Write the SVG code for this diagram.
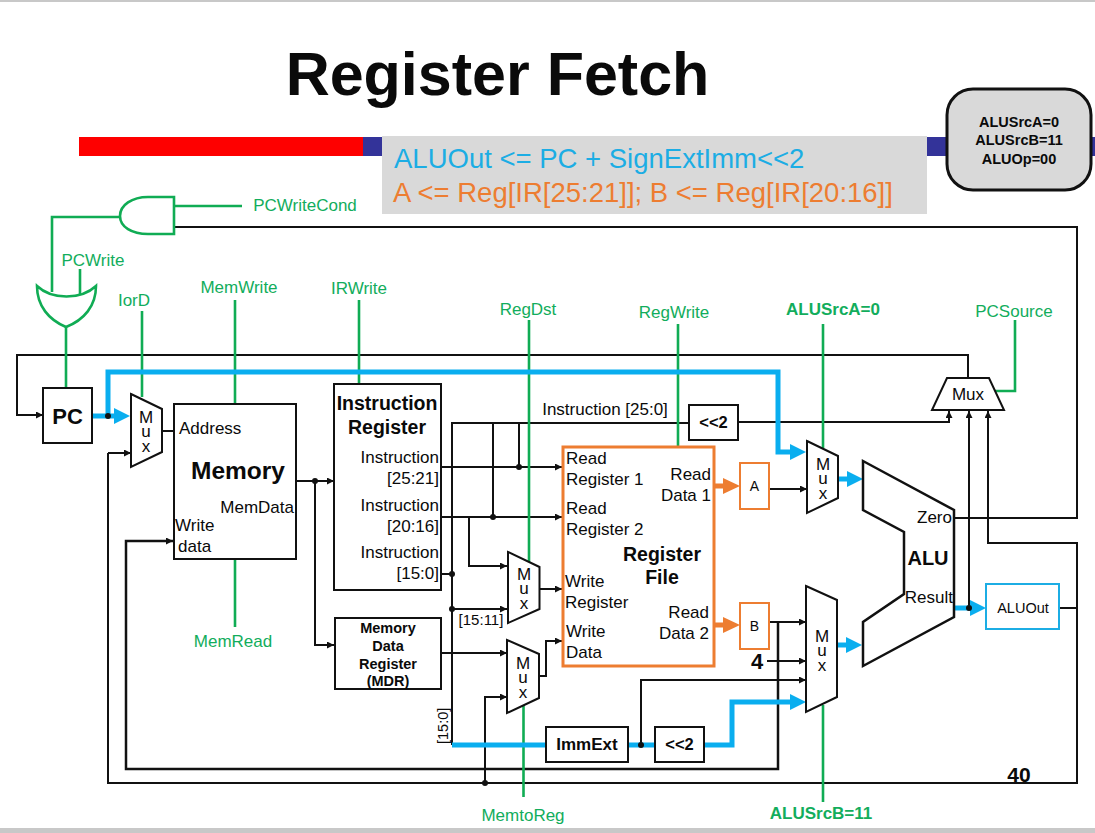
<svg xmlns="http://www.w3.org/2000/svg" width="1095" height="833" viewBox="0 0 1095 833">
<style>
text{font-family:"Liberation Sans",Arial,sans-serif;fill:#0a0a0a}
.c{text-anchor:middle}.e{text-anchor:end}.b{font-weight:bold}
.f{font-size:17px}.g{fill:#12ad5c;font-size:17px;text-anchor:middle}
.box{fill:#fff;stroke:#111;stroke-width:2}
.k{fill:none;stroke:#111;stroke-width:2}
.gr{fill:none;stroke:#10ac54;stroke-width:2.6}
.bl{fill:none;stroke:#0aaeef;stroke-width:5}
.or{fill:none;stroke:#ed7d31;stroke-width:5}
</style>
<defs>
<marker id="a" viewBox="0 0 7 7" refX="7" refY="3.500" markerWidth="7" markerHeight="7" markerUnits="userSpaceOnUse" orient="auto"><path d="M0 0L7 3.500L0 7Z" fill="#111"/></marker>
</defs>
<rect width="1095" height="833" fill="#fff"/>
<rect width="1095" height="2" fill="#c8c8c8"/>
<rect y="828" width="1095" height="5" fill="#c8c8c8"/>
<g id="title">
<rect x="79" y="137" width="284" height="19" fill="#fe0000"/>
<rect x="363" y="137" width="20" height="19" fill="#333399"/>
<rect x="927" y="137" width="21" height="19" fill="#333399"/>
<rect x="1090" y="137" width="5" height="19" fill="#333399"/>
<text x="497.500" y="95" class="c b" font-size="61">Register Fetch</text>
<rect x="382" y="136" width="545" height="78" fill="#d9d9d9"/>
<text x="394" y="168" font-size="27.500" style="fill:#1cade4">ALUOut &lt;= PC + SignExtImm&lt;&lt;2</text>
<text x="393" y="202" font-size="27.500" style="fill:#ed7d31">A &lt;= Reg[IR[25:21]]; B &lt;= Reg[IR[20:16]]</text>
</g>
<g id="state">
<rect x="947" y="89" width="144" height="101" rx="26" fill="#d9d9d9" stroke="#111" stroke-width="3"/>
<text x="1019" y="127" class="c b" font-size="14.500">ALUSrcA=0</text>
<text x="1019" y="145" class="c b" font-size="14.500">ALUSrcB=11</text>
<text x="1019" y="164" class="c b" font-size="14.500">ALUOp=00</text>
</g>
<g id="connectors">
<path class="k" d="M175 227H1077V518H954"/>
<path class="k" d="M968 378V355H17V415H43" marker-end="url(#a)"/>
<path class="k" d="M108 453H131" marker-end="url(#a)"/>
<path class="k" d="M108 453V783H1077V543H988V411" marker-end="url(#a)"/>
<path class="k" d="M1059 608H1077"/>
<path class="k" d="M162 431H174"/>
<path class="k" d="M296 481H334" marker-end="url(#a)"/>
<path class="k" d="M315 481V645H334" marker-end="url(#a)"/>
<path class="k" style="stroke-width:2.500" d="M173 541H126V769H778V622"/>
<path class="k" d="M126 541H173" marker-end="url(#a)"/>
<path class="k" d="M769 622H806" marker-end="url(#a)"/>
<path class="k" d="M452 745V423H689"/>
<path class="k" d="M493 423V517"/>
<path class="k" d="M519 423V467"/>
<path class="k" d="M441 467H562" marker-end="url(#a)"/>
<path class="k" d="M441 517H562" marker-end="url(#a)"/>
<path class="k" d="M469 517V566H507" marker-end="url(#a)"/>
<path class="k" d="M441 574H452"/>
<path class="k" d="M452 609H507" marker-end="url(#a)"/>
<path class="k" d="M539 589H562" marker-end="url(#a)"/>
<path class="k" d="M441 653H507" marker-end="url(#a)"/>
<path class="k" d="M485 783V697H507" marker-end="url(#a)"/>
<path class="k" d="M539 676H546V641H562" marker-end="url(#a)"/>
<path class="k" d="M769 489H807" marker-end="url(#a)"/>
<path class="k" d="M767 661H806" marker-end="url(#a)"/>
<path class="k" d="M641 745V680H806" marker-end="url(#a)"/>
<path class="k" d="M738 422H949V411" marker-end="url(#a)"/>
<path class="k" d="M969 608V411" marker-end="url(#a)"/>
<path class="gr" d="M120 217H52V292"/>
<path class="gr" d="M174 206H242"/>
<path class="gr" d="M80 269V295"/>
<path class="gr" d="M66 327V388"/>
<path class="gr" d="M142 311V397"/>
<path class="gr" d="M235 300V404"/>
<path class="gr" d="M235 559V627"/>
<path class="gr" d="M359 300V384"/>
<path class="gr" d="M529 320V569"/>
<path class="gr" d="M678 324V446"/>
<path class="gr" d="M823 324V448"/>
<path class="gr" d="M823 705V802"/>
<path class="gr" d="M523.500 705V797"/>
<path class="gr" d="M995 391H1015V320"/>
<path class="bl" d="M93 416H116"/>
<path d="M114 408L130 416L114 424Z" fill="#0aaeef"/>
<path class="bl" d="M108 416V372H778V452H792"/>
<path d="M790 444L806 452L790 460Z" fill="#0aaeef"/>
<path class="bl" d="M838 479H849"/>
<path d="M847 471L863 479L847 487Z" fill="#0aaeef"/>
<path class="bl" d="M837 645H848"/>
<path d="M846 637L862 645L846 653Z" fill="#0aaeef"/>
<path class="bl" d="M954 608H972"/>
<path d="M970 600L986 608L970 616Z" fill="#0aaeef"/>
<path class="bl" d="M452 745H546M628 745H655"/>
<path class="bl" d="M704 745H732V702H792"/>
<path d="M790 694L806 702L790 710Z" fill="#0aaeef"/>
<path class="or" d="M714 486H726M714 625H726"/>
<path d="M723 478L740 486L723 494ZM723 617L740 625L723 633Z" fill="#ed7d31"/>
<g fill="#111">
<circle cx="108" cy="416" r="3"/><circle cx="315" cy="481" r="3"/>
<circle cx="519" cy="467" r="3"/><circle cx="493" cy="517" r="3"/>
<circle cx="452" cy="574" r="3"/><circle cx="452" cy="609" r="3"/>
<circle cx="485" cy="783" r="3"/><circle cx="641" cy="745" r="3"/>
<circle cx="969" cy="608" r="3"/>
</g>
</g>
<g id="and-gate"><path d="M174 197V234H148C132 234 120 227 120 216C120 205 132 197 148 197Z" fill="#fff" stroke="#10ac54" stroke-width="2.600"/></g>
<g id="or-gate"><path d="M37 286C52 300 81 300 96 286C96 306 84 320 66 327C49 320 37 306 37 286Z" fill="#fff" stroke="#10ac54" stroke-width="2.600"/></g>
<g id="pc"><rect class="box" x="43" y="388" width="49" height="55"/><text x="67.500" y="424" class="c b" font-size="22">PC</text></g>
<g id="mux-iord"><path class="box" d="M131 394L162 409V452L131 467Z"/><text class="c f"><tspan x="146" y="423">M</tspan><tspan x="146" y="437">u</tspan><tspan x="146" y="452">x</tspan></text></g>
<g id="memory"><rect class="box" x="174" y="404" width="122" height="155"/>
<text x="179" y="434" class="f">Address</text><text x="238" y="479" class="c b" font-size="24.500">Memory</text>
<text x="294" y="513" class="e f">MemData</text><text x="175" y="531" class="f">Write</text><text x="178" y="552" class="f">data</text></g>
<g id="instruction-register"><rect class="box" x="334" y="384" width="107" height="206"/>
<text x="387" y="410" class="c b" font-size="19.500">Instruction</text><text x="387" y="434" class="c b" font-size="19.500">Register</text>
<text x="439" y="463" class="e f">Instruction</text><text x="439" y="484" class="e f">[25:21]</text>
<text x="439" y="511" class="e f">Instruction</text><text x="439" y="532" class="e f">[20:16]</text>
<text x="439" y="558" class="e f">Instruction</text><text x="439" y="579" class="e f">[15:0]</text></g>
<g id="mdr"><rect class="box" x="335" y="618" width="106" height="71"/>
<text x="388" y="633" class="c b" font-size="14.500">Memory</text><text x="388" y="651" class="c b" font-size="14.500">Data</text><text x="388" y="669" class="c b" font-size="14.500">Register</text><text x="388" y="686" class="c b" font-size="14.500">(MDR)</text></g>
<g id="mux-regdst"><path class="box" d="M508 552L539.500 567V609L508 623Z"/><text class="c f"><tspan x="524" y="580">M</tspan><tspan x="524" y="594">u</tspan><tspan x="524" y="609">x</tspan></text></g>
<g id="mux-memtoreg"><path class="box" d="M507 640L539 654V698L507 713Z"/><text class="c f"><tspan x="523" y="669">M</tspan><tspan x="523" y="683">u</tspan><tspan x="523" y="698">x</tspan></text></g>
<g id="register-file"><rect x="563" y="447" width="151" height="219" fill="#fff" stroke="#ed7d31" stroke-width="3"/>
<text x="566" y="464" class="f">Read</text><text x="566" y="485" class="f">Register 1</text>
<text x="566" y="514" class="f">Read</text><text x="566" y="535" class="f">Register 2</text>
<text x="565" y="587" class="f">Write</text><text x="565" y="608" class="f">Register</text>
<text x="566" y="637" class="f">Write</text><text x="566" y="658" class="f">Data</text>
<text x="711" y="480" class="e f">Read</text><text x="711" y="501" class="e f">Data 1</text>
<text x="709" y="618" class="e f">Read</text><text x="709" y="639" class="e f">Data 2</text>
<text x="662" y="561" class="c b" font-size="19.500">Register</text><text x="662" y="584" class="c b" font-size="19.500">File</text></g>
<g id="shift-jump"><rect class="box" x="689" y="405" width="49" height="35"/><text x="713.500" y="428" class="c b" font-size="16.500">&lt;&lt;2</text></g>
<g id="reg-a"><rect x="740" y="463" width="29" height="46" fill="#fff" stroke="#ed7d31" stroke-width="2"/><text x="754.500" y="491" class="c" font-size="14">A</text></g>
<g id="reg-b"><rect x="740" y="603" width="29" height="46" fill="#fff" stroke="#ed7d31" stroke-width="2"/><text x="754.500" y="631" class="c" font-size="14">B</text></g>
<g id="mux-a"><path class="box" d="M807 441L838 456V498L807 513Z"/><text class="c f"><tspan x="823" y="470">M</tspan><tspan x="823" y="484">u</tspan><tspan x="823" y="499">x</tspan></text></g>
<g id="mux-b"><path class="box" d="M806 586L837 600V697L806 712Z"/><text class="c f"><tspan x="822" y="642">M</tspan><tspan x="822" y="656">u</tspan><tspan x="822" y="671">x</tspan></text></g>
<g id="alu"><path class="box" style="stroke-width:2.500" d="M863 461L954 510V617L863 666V622L904 594V532L863 510Z"/>
<text x="928" y="565" class="c b" font-size="20">ALU</text><text x="952" y="523" class="e f">Zero</text><text x="953" y="603" class="e f">Result</text></g>
<g id="mux-pc"><path class="box" d="M947 378H989L1004 410H932Z"/><text x="968" y="400" class="c f">Mux</text></g>
<g id="aluout"><rect x="986" y="584" width="73" height="45" fill="#fff" stroke="#1cade4" stroke-width="2"/><text x="1023" y="613" class="c" font-size="14.500">ALUOut</text></g>
<g id="immext"><rect class="box" x="546" y="727" width="82" height="35"/><text x="587" y="750" class="c b" font-size="17">ImmExt</text></g>
<g id="shift-imm"><rect class="box" x="655" y="727" width="49" height="35"/><text x="679.500" y="750" class="c b" font-size="16.500">&lt;&lt;2</text></g>
<g id="labels">
<text x="305" y="211" class="g">PCWriteCond</text>
<text x="93" y="266" class="g">PCWrite</text>
<text x="134" y="306" class="g">IorD</text>
<text x="239" y="293" class="g">MemWrite</text>
<text x="359" y="294" class="g">IRWrite</text>
<text x="528" y="315" class="g">RegDst</text>
<text x="674" y="318" class="g">RegWrite</text>
<text x="833" y="315" class="g b">ALUSrcA=0</text>
<text x="1014" y="317" class="g">PCSource</text>
<text x="233" y="647" class="g">MemRead</text>
<text x="523" y="821" class="g">MemtoReg</text>
<text x="821" y="819" class="g b">ALUSrcB=11</text>
<text x="605" y="415" class="c f">Instruction [25:0]</text>
<text x="481" y="625" class="c" font-size="15">[15:11]</text>
<text transform="translate(448,744) rotate(-90)" font-size="14.500">[15:0]</text>
<text x="757" y="669" class="c b" font-size="22">4</text>
<text x="1019" y="782" class="c b" font-size="21">40</text>
</g>
</svg>
